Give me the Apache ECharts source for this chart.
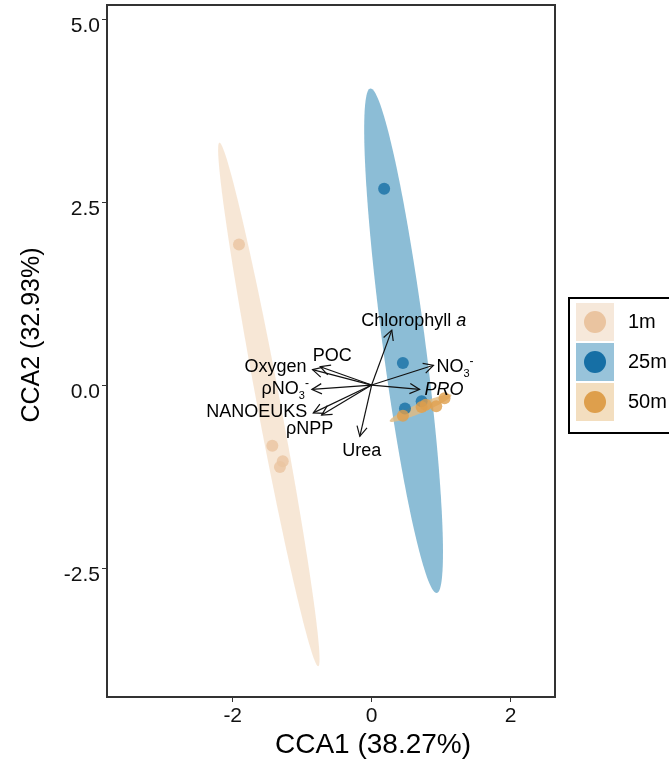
<!DOCTYPE html>
<html>
<head>
<meta charset="utf-8">
<script src="https://cdn.jsdelivr.net/npm/echarts@6/dist/echarts.min.js"></script>
<style>
  html, body { margin: 0; padding: 0; background: #fff; }
  #chart { width: 669px; height: 762px; }
</style>
</head>
<body>
<div id="chart"></div>
<script>
// ---- Sample scores on the first two canonical axes, by depth ----
const depths = ['1m', '25m', '50m'];

const cca1_1m = [-1.91, -1.43, -1.28, -1.32];
const cca2_1m = [1.92, -0.83, -1.04, -1.12];

const cca1_25m = [0.18, 0.45, 0.48, 0.72];
const cca2_25m = [2.68, 0.30, -0.32, -0.22];

const cca1_50m = [0.45, 0.72, 0.78, 0.93, 1.05];
const cca2_50m = [-0.42, -0.30, -0.27, -0.29, -0.18];

// ---- Confidence ellipses per depth: centre, major half-axis, minor half-axis (CCA units) ----
const ellipseCentres = [[-1.48, -0.265], [0.46, 0.605], [0.705, -0.315]];
const ellipseMajor = [[-0.71, 3.575], [-0.475, 3.445], [0.445, 0.175]];
const ellipseMinor = [[0.17, 0], [0.31, 0], [0, 0.07]];

// ---- Environmental variable biplot vectors ----
const envVars = ['Chlorophyll a', 'NO3-', 'PRO', 'Urea', 'POC', 'Oxygen', 'ρNO3-', 'NANOEUKS', 'ρNPP'];
const arrowCCA1 = [0.29, 0.89, 0.69, -0.17, -0.74, -0.85, -0.86, -0.84, -0.72];
const arrowCCA2 = [0.75, 0.27, -0.06, -0.70, 0.25, 0.21, -0.06, -0.38, -0.41];

// ---- Axis ticks ----
const xTicks = [-2, 0, 2];
const yTicks = [-2.5, 0, 2.5, 5];
const xTitle = 'CCA1 (38.27%)';
const yTitle = 'CCA2 (32.93%)';

// ---- Styling ----
const FONT = '"Liberation Sans", Arial, Helvetica, sans-serif';
const pointColors = ['#EAC4A0', '#166FA5', '#DE9F4C'];
const ellipseFills = ['rgba(246,228,210,0.9)', 'rgba(140,189,214,1)', 'rgba(226,186,128,0.8)'];
const keyFills = ['#F6E8DA', '#98C3DA', '#F3DEBF'];

// rich-text forms of the vector labels, with placement relative to the arrow tip (px)
const labelRich = {
  'Chlorophyll a': '{n|Chlorophyll }{i|a}',
  'NO3-': '{n|NO}{sub|3}{sup|-}',
  'PRO': '{i|PRO}',
  'ρNO3-': '{n|ρNO}{sub|3}{sup|-}'
};
const labelPlace = {
  'Chlorophyll a': { dx: 22, dy: -9, align: 'center' },
  'NO3-': { dx: 3, dy: 2, align: 'left' },
  'PRO': { dx: 5, dy: 1, align: 'left' },
  'Urea': { dx: 2, dy: 15, align: 'center' },
  'POC': { dx: 12, dy: -11, align: 'center' },
  'Oxygen': { dx: -6, dy: -3, align: 'right' },
  'ρNO3-': { dx: -3, dy: 0, align: 'right' },
  'NANOEUKS': { dx: -6, dy: -1, align: 'right' },
  'ρNPP': { dx: -12, dy: 14, align: 'center' }
};
const richStyles = {
  n: { fontSize: 18, fontFamily: FONT, color: '#000', lineHeight: 24 },
  i: { fontSize: 18, fontFamily: FONT, fontStyle: 'italic', color: '#000', lineHeight: 24 },
  sub: { fontSize: 11, fontFamily: FONT, color: '#000', lineHeight: 11, verticalAlign: 'bottom' },
  sup: { fontSize: 12, fontFamily: FONT, color: '#000', lineHeight: 14, verticalAlign: 'top' }
};

const zip = (xs, ys) => xs.map((x, i) => [x, ys[i]]);

function renderEllipse(params, api) {
  const i = params.dataIndex;
  const c = ellipseCentres[i], u = ellipseMajor[i], v = ellipseMinor[i];
  const pts = [];
  const n = 160;
  for (let k = 0; k < n; k++) {
    const t = 2 * Math.PI * k / n;
    const ct = Math.cos(t), st = Math.sin(t);
    pts.push(api.coord([c[0] + u[0] * ct + v[0] * st, c[1] + u[1] * ct + v[1] * st]));
  }
  return {
    type: 'polygon',
    shape: { points: pts },
    style: { fill: ellipseFills[i], stroke: null }
  };
}

function renderArrow(params, api) {
  const name = envVars[params.dataIndex];
  const o = api.coord([0, 0]);
  const p = api.coord([api.value(0), api.value(1)]);
  const ang = Math.atan2(p[1] - o[1], p[0] - o[0]);
  const hl = 11, ha = Math.PI / 6.5;
  const h1 = [p[0] - hl * Math.cos(ang - ha), p[1] - hl * Math.sin(ang - ha)];
  const h2 = [p[0] - hl * Math.cos(ang + ha), p[1] - hl * Math.sin(ang + ha)];
  const place = labelPlace[name];
  const txt = labelRich[name] || '{n|' + name + '}';
  return {
    type: 'group',
    children: [
      { type: 'line', shape: { x1: o[0], y1: o[1], x2: p[0], y2: p[1] },
        style: { stroke: '#111', lineWidth: 1.2 } },
      { type: 'polyline', shape: { points: [h1, p, h2] },
        style: { stroke: '#111', lineWidth: 1.2, fill: null } },
      { type: 'text', x: p[0] + place.dx, y: p[1] + place.dy,
        style: { text: txt, rich: richStyles, align: place.align, verticalAlign: 'middle' } }
    ]
  };
}

const chart = echarts.init(document.getElementById('chart'), null, { renderer: 'canvas' });

const legendChildren = [
  { type: 'rect', shape: { x: 0, y: 0, width: 140, height: 135 },
    style: { fill: '#fff', stroke: '#000', lineWidth: 2 } }
];
depths.forEach((d, i) => {
  legendChildren.push(
    { type: 'rect', shape: { x: 7, y: 5 + 40 * i, width: 38, height: 38 }, style: { fill: keyFills[i] } },
    { type: 'circle', shape: { cx: 26, cy: 24 + 40 * i, r: 11 }, style: { fill: pointColors[i] } },
    { type: 'text', x: 59, y: 24 + 40 * i,
      style: { text: d, fontSize: 20, fontFamily: FONT, fill: '#000', verticalAlign: 'middle' } }
  );
});

chart.setOption({
  animation: false,
  backgroundColor: '#fff',
  grid: {
    left: 107, right: 114, top: 5, bottom: 65,
    show: true, borderColor: '#333', borderWidth: 2, backgroundColor: '#fff'
  },
  xAxis: {
    type: 'value', min: -3.81, max: 2.64,
    splitLine: { show: false },
    axisLine: { show: false, onZero: false },
    axisTick: { show: true, length: 5, customValues: xTicks, lineStyle: { color: '#333', width: 1 } },
    axisLabel: {
      customValues: xTicks, margin: 9, fontSize: 21, fontFamily: FONT, color: '#111',
      formatter: v => String(v)
    }
  },
  yAxis: {
    type: 'value', min: -4.26, max: 5.19,
    splitLine: { show: false },
    axisLine: { show: false, onZero: false },
    axisTick: { show: true, length: 5, customValues: yTicks, lineStyle: { color: '#333', width: 1 } },
    axisLabel: {
      customValues: yTicks, margin: 7, fontSize: 21, fontFamily: FONT, color: '#111',
      verticalAlign: 'top', lineHeight: 14,
      formatter: v => v.toFixed(1)
    }
  },
  graphic: [
    { type: 'text', x: 373, y: 745, z: 10,
      style: { text: xTitle, fontSize: 28, fontFamily: FONT, fill: '#000', align: 'center', verticalAlign: 'middle' } },
    { type: 'text', x: 32, y: 335, rotation: Math.PI / 2, z: 10,
      style: { text: yTitle, fontSize: 25, fontFamily: FONT, fill: '#000', align: 'center', verticalAlign: 'middle' } },
    { type: 'group', x: 569, y: 298, z: 10, children: legendChildren }
  ],
  series: [
    {
      type: 'custom', name: 'ellipses', z: 1, silent: true,
      renderItem: renderEllipse,
      encode: { x: 0, y: 1 },
      data: ellipseCentres.map(c => [c[0], c[1]])
    },
    { type: 'scatter', name: depths[0], z: 2, symbolSize: 12, itemStyle: { color: pointColors[0] }, data: zip(cca1_1m, cca2_1m) },
    { type: 'scatter', name: depths[1], z: 2, symbolSize: 12, itemStyle: { color: pointColors[1] }, data: zip(cca1_25m, cca2_25m) },
    { type: 'scatter', name: depths[2], z: 2, symbolSize: 12, itemStyle: { color: pointColors[2] }, data: zip(cca1_50m, cca2_50m) },
    {
      type: 'custom', name: 'vectors', z: 3, silent: true,
      renderItem: renderArrow,
      encode: { x: 0, y: 1 },
      data: zip(arrowCCA1, arrowCCA2)
    }
  ]
});
</script>
</body>
</html>
